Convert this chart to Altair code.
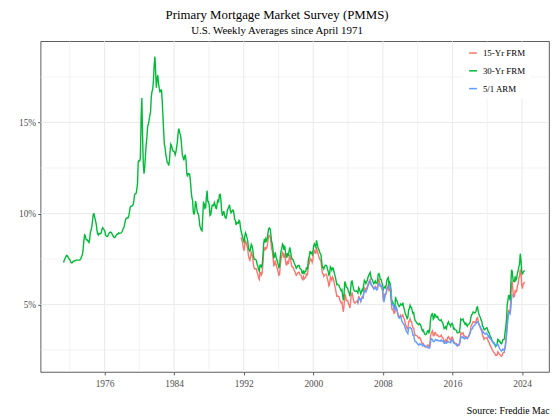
import altair as alt
import pandas as pd

FONT = "Liberation Serif"

series_names = ["15-Yr FRM", "30-Yr FRM", "5/1 ARM"]
series_colors = ["#F8766D", "#00BA38", "#619CFF"]

# 30-Yr FRM, monthly readings starting April 1971
start30 = (1971, 4)
rate30 = [
    7.31, 7.43, 7.53, 7.60, 7.70, 7.69, 7.63, 7.55, 7.48,
    7.44, 7.32, 7.29, 7.29, 7.37, 7.37, 7.40, 7.40, 7.43, 7.45, 7.44, 7.44,
    7.44, 7.44, 7.46, 7.54, 7.65, 7.73, 8.05, 8.50, 8.82, 8.77, 8.58, 8.54,
    8.54, 8.46, 8.41, 8.58, 8.97, 9.09, 9.28, 9.59, 9.96, 9.98, 9.79, 9.62,
    9.43, 9.10, 8.89, 8.82, 8.91, 8.89, 8.89, 8.94, 9.13, 9.22, 9.15, 9.10,
    9.02, 8.81, 8.76, 8.73, 8.76, 8.85, 8.93, 8.96, 8.98, 8.95, 8.86, 8.80,
    8.72, 8.67, 8.69, 8.75, 8.83, 8.86, 8.87, 8.94, 8.90, 8.92, 8.92, 8.96,
    9.02, 9.15, 9.20, 9.36, 9.57, 9.71, 9.74, 9.78, 9.76, 9.86, 10.11, 10.35,
    10.39, 10.41, 10.43, 10.50, 10.69, 11.04, 11.09, 11.09, 11.30, 11.64, 12.83, 12.90,
    12.88, 13.04, 15.28, 16.35, 14.26, 12.71, 12.19, 12.56, 13.20, 13.79, 14.21, 14.79,
    14.90, 15.13, 15.40, 15.58, 16.40, 16.70, 16.83, 17.29, 18.16, 18.63, 17.83, 16.92,
    17.40, 17.60, 17.16, 16.89, 16.68, 16.70, 16.82, 16.27, 15.43, 14.61, 13.83, 13.62,
    13.25, 13.04, 12.80, 12.78, 12.63, 12.87, 13.42, 13.81, 13.73, 13.54, 13.44, 13.42,
    13.37, 13.23, 13.39, 13.65, 13.94, 14.42, 14.67, 14.47, 14.35, 14.13, 13.64, 13.18,
    13.08, 12.92, 13.17, 13.20, 12.91, 12.22, 12.03, 12.19, 12.19, 12.14, 11.78, 11.26,
    10.88, 10.71, 10.08, 9.94, 10.14, 10.68, 10.51, 10.20, 10.01, 9.98, 9.70, 9.32,
    9.20, 9.08, 9.04, 9.83, 10.60, 10.54, 10.28, 10.33, 10.89, 11.26, 10.65, 10.65,
    10.43, 9.89, 9.93, 10.20, 10.46, 10.46, 10.43, 10.60, 10.48, 10.30, 10.27, 10.61,
    10.73, 10.65, 11.03, 11.05, 10.77, 10.20, 9.88, 9.99, 10.13, 9.95, 9.77, 9.74,
    9.90, 10.20, 10.27, 10.37, 10.48, 10.16, 10.04, 10.10, 10.18, 10.18, 10.01, 9.67,
    9.64, 9.37, 9.50, 9.49, 9.47, 9.62, 9.58, 9.24, 9.01, 8.86, 8.71, 8.50,
    8.43, 8.76, 8.94, 8.85, 8.67, 8.51, 8.13, 7.98, 7.92, 8.09, 8.31, 8.22,
    8.02, 7.68, 7.50, 7.47, 7.47, 7.42, 7.21, 7.11, 6.92, 6.83, 7.16, 7.17,
    7.06, 7.15, 7.68, 8.32, 8.60, 8.40, 8.61, 8.51, 8.64, 8.93, 9.17, 9.20,
    9.15, 8.83, 8.46, 8.32, 7.96, 7.57, 7.61, 7.86, 7.64, 7.48, 7.38, 7.20,
    7.03, 7.08, 7.62, 7.93, 8.07, 8.32, 8.25, 8.00, 8.23, 7.92, 7.62, 7.60,
    7.82, 7.65, 7.90, 8.14, 7.94, 7.69, 7.50, 7.48, 7.43, 7.29, 7.21, 7.10,
    6.99, 7.04, 7.13, 7.14, 7.14, 7.00, 6.95, 6.92, 6.72, 6.71, 6.87, 6.72,
    6.79, 6.81, 7.04, 6.92, 7.15, 7.55, 7.63, 7.94, 7.82, 7.85, 7.74, 7.91,
    8.21, 8.33, 8.24, 8.15, 8.52, 8.29, 8.15, 8.03, 7.91, 7.80, 7.75, 7.38,
    7.03, 7.05, 6.95, 7.08, 7.15, 7.16, 7.13, 6.95, 6.82, 6.62, 6.66, 7.07,
    7.00, 6.89, 7.01, 6.99, 6.81, 6.65, 6.49, 6.29, 6.09, 6.11, 6.07, 6.05,
    5.92, 5.84, 5.75, 5.81, 5.48, 5.23, 5.63, 6.26, 6.15, 5.95, 5.93, 5.88,
    5.71, 5.64, 5.45, 5.83, 6.27, 6.29, 6.06, 5.87, 5.75, 5.72, 5.73, 5.75,
    5.71, 5.63, 5.93, 5.86, 5.72, 5.58, 5.70, 5.82, 5.77, 6.07, 6.33, 6.27,
    6.15, 6.25, 6.32, 6.51, 6.60, 6.68, 6.76, 6.52, 6.40, 6.36, 6.24, 6.14,
    6.22, 6.29, 6.16, 6.18, 6.26, 6.66, 6.70, 6.57, 6.38, 6.38, 6.21, 6.10,
    5.76, 5.92, 5.97, 5.92, 6.04, 6.32, 6.43, 6.48, 6.04, 6.20, 6.09, 5.33,
    5.06, 5.13, 5.00, 4.81, 4.86, 5.42, 5.22, 5.19, 5.06, 4.95, 4.88, 4.93,
    5.03, 4.99, 4.97, 5.10, 4.89, 4.74, 4.56, 4.43, 4.35, 4.23, 4.30, 4.71,
    4.76, 4.95, 4.84, 4.84, 4.64, 4.51, 4.55, 4.27, 4.11, 4.07, 3.99, 3.96,
    3.92, 3.89, 3.95, 3.91, 3.80, 3.68, 3.55, 3.60, 3.50, 3.38, 3.35, 3.35,
    3.41, 3.53, 3.57, 3.45, 3.54, 4.07, 4.37, 4.46, 4.49, 4.19, 4.26, 4.46,
    4.43, 4.30, 4.34, 4.34, 4.19, 4.16, 4.13, 4.12, 4.16, 4.04, 4.00, 3.86,
    3.67, 3.71, 3.77, 3.67, 3.84, 3.98, 4.05, 3.91, 3.89, 3.80, 3.94, 3.96,
    3.87, 3.66, 3.69, 3.61, 3.60, 3.57, 3.44, 3.44, 3.46, 3.47, 3.77, 4.20,
    4.15, 4.17, 4.20, 4.05, 4.01, 3.90, 3.97, 3.88, 3.81, 3.90, 3.92, 3.95,
    4.03, 4.33, 4.44, 4.47, 4.59, 4.57, 4.53, 4.55, 4.63, 4.83, 4.87, 4.64,
    4.46, 4.37, 4.27, 4.14, 4.07, 3.80, 3.77, 3.62, 3.61, 3.69, 3.70, 3.72,
    3.62, 3.47, 3.45, 3.31, 3.23, 3.16, 3.02, 2.94, 2.89, 2.83, 2.77, 2.68,
    2.74, 2.81, 3.08, 3.06, 2.96, 2.98, 2.87, 2.84, 2.90, 3.07, 3.07, 3.10,
    3.45, 3.76, 4.17, 4.98, 5.23, 5.52, 5.41, 5.22, 6.11, 6.90, 6.81, 6.36,
    6.27, 6.26, 6.54, 6.34, 6.43, 6.71, 6.84, 7.07, 7.20, 7.79, 7.44, 6.82,
    6.64, 6.78, 6.82, 6.87,
]

# 15-Yr FRM, monthly readings starting September 1991
start15 = (1991, 9)
rate15 = [
    8.68, 8.52, 8.36, 8.13,
    7.95, 8.28, 8.48, 8.40, 8.22, 8.06, 7.68, 7.52, 7.43, 7.63, 7.86, 7.75,
    7.54, 7.18, 6.99, 6.94, 6.97, 6.95, 6.78, 6.66, 6.47, 6.38, 6.74, 6.76,
    6.63, 6.73, 7.25, 7.87, 8.14, 7.97, 8.13, 8.09, 8.22, 8.52, 8.76, 8.78,
    8.73, 8.43, 8.06, 7.93, 7.56, 7.14, 7.18, 7.43, 7.21, 7.06, 6.97, 6.79,
    6.60, 6.64, 7.18, 7.50, 7.62, 7.87, 7.81, 7.56, 7.79, 7.49, 7.18, 7.17,
    7.40, 7.22, 7.47, 7.72, 7.52, 7.28, 7.07, 7.06, 7.02, 6.89, 6.82, 6.71,
    6.60, 6.65, 6.73, 6.76, 6.77, 6.64, 6.62, 6.59, 6.41, 6.36, 6.52, 6.40,
    6.46, 6.49, 6.72, 6.59, 6.80, 7.20, 7.24, 7.53, 7.43, 7.46, 7.32, 7.49,
    7.83, 7.96, 7.89, 7.79, 8.15, 7.93, 7.80, 7.64, 7.54, 7.44, 7.40, 7.05,
    6.72, 6.68, 6.54, 6.60, 6.65, 6.67, 6.63, 6.39, 6.26, 6.02, 6.09, 6.52,
    6.43, 6.33, 6.51, 6.44, 6.25, 6.05, 5.88, 5.67, 5.45, 5.46, 5.44, 5.42,
    5.24, 5.17, 5.08, 5.13, 4.84, 4.59, 4.97, 5.59, 5.47, 5.22, 5.22, 5.20,
    5.03, 4.96, 4.80, 5.16, 5.61, 5.63, 5.44, 5.23, 5.10, 5.07, 5.14, 5.16,
    5.19, 5.14, 5.43, 5.40, 5.28, 5.16, 5.32, 5.42, 5.38, 5.68, 5.91, 5.86,
    5.74, 5.89, 5.98, 6.13, 6.24, 6.31, 6.37, 6.14, 6.04, 6.03, 5.93, 5.85,
    5.93, 5.99, 5.89, 5.91, 5.96, 6.32, 6.37, 6.21, 6.00, 6.00, 5.88, 5.74,
    5.27, 5.33, 5.55, 5.52, 5.60, 5.89, 6.00, 6.05, 5.72, 5.93, 5.87, 5.15,
    4.73, 4.73, 4.64, 4.51, 4.54, 4.92, 4.79, 4.67, 4.52, 4.36, 4.34, 4.36,
    4.42, 4.35, 4.34, 4.42, 4.27, 4.20, 4.03, 3.87, 3.77, 3.66, 3.65, 4.05,
    4.09, 4.22, 4.08, 4.05, 3.84, 3.71, 3.70, 3.44, 3.30, 3.30, 3.29, 3.26,
    3.20, 3.15, 3.19, 3.12, 3.04, 2.94, 2.85, 2.86, 2.77, 2.69, 2.66, 2.67,
    2.69, 2.77, 2.76, 2.67, 2.73, 3.17, 3.42, 3.49, 3.55, 3.29, 3.28, 3.44,
    3.45, 3.33, 3.31, 3.33, 3.25, 3.23, 3.24, 3.25, 3.32, 3.21, 3.18, 3.10,
    2.95, 2.99, 3.04, 2.95, 3.07, 3.19, 3.23, 3.14, 3.09, 3.00, 3.18, 3.21,
    3.14, 2.96, 2.93, 2.86, 2.86, 2.85, 2.74, 2.74, 2.76, 2.77, 3.02, 3.44,
    3.38, 3.38, 3.44, 3.31, 3.27, 3.18, 3.23, 3.17, 3.12, 3.21, 3.27, 3.36,
    3.51, 3.80, 3.90, 3.94, 4.05, 4.05, 4.01, 4.01, 4.08, 4.23, 4.27, 4.09,
    3.89, 3.80, 3.71, 3.60, 3.53, 3.28, 3.22, 3.09, 3.16, 3.15, 3.15, 3.19,
    3.09, 2.97, 2.92, 2.79, 2.72, 2.64, 2.54, 2.46, 2.39, 2.35, 2.30, 2.21,
    2.21, 2.21, 2.40, 2.35, 2.27, 2.24, 2.18, 2.16, 2.18, 2.33, 2.35, 2.37,
    2.62, 3.03, 3.39, 4.17, 4.43, 4.67, 4.67, 4.59, 5.31, 6.17, 6.23, 5.69,
    5.41, 5.44, 5.75, 5.68, 5.73, 6.02, 6.12, 6.44, 6.56, 6.92, 6.76, 6.06,
    5.87, 6.12, 6.16, 6.24,
]

# 5/1 ARM, monthly readings starting January 2005 (series ends November 2022)
start_arm = (2005, 1)
rate_arm = [
    5.15, 5.07, 5.30, 5.35, 5.30, 5.20, 5.30, 5.37, 5.35, 5.54, 5.74, 5.74,
    5.69, 5.78, 5.87, 6.02, 6.10, 6.22, 6.31, 6.15, 6.03, 6.00, 5.93, 5.85,
    5.90, 5.92, 5.84, 5.79, 5.83, 6.06, 6.15, 6.10, 6.00, 6.03, 5.99, 5.96,
    5.45, 5.13, 5.34, 5.55, 5.61, 5.82, 5.86, 5.94, 5.92, 6.06, 5.93, 5.73,
    5.04, 4.96, 4.98, 4.72, 4.69, 4.90, 4.88, 4.69, 4.47, 4.31, 4.24, 4.30,
    4.34, 4.19, 4.05, 3.99, 3.93, 3.88, 3.73, 3.62, 3.51, 3.47, 3.40, 3.70,
    3.73, 3.74, 3.69, 3.67, 3.49, 3.31, 3.32, 3.07, 2.96, 2.96, 2.91, 2.84,
    2.82, 2.76, 2.83, 2.80, 2.83, 2.80, 2.72, 2.76, 2.74, 2.75, 2.70, 2.69,
    2.67, 2.64, 2.62, 2.60, 2.60, 2.84, 3.12, 3.11, 3.06, 2.96, 2.96, 2.99,
    3.08, 3.06, 3.02, 3.05, 3.01, 2.99, 3.01, 2.99, 3.05, 2.98, 2.97, 3.00,
    2.87, 2.87, 2.92, 2.87, 2.89, 2.99, 2.95, 2.92, 2.91, 2.89, 3.01, 3.08,
    3.01, 2.88, 2.87, 2.84, 2.80, 2.78, 2.72, 2.79, 2.81, 2.84, 2.96, 3.19,
    3.21, 3.18, 3.24, 3.14, 3.11, 3.13, 3.19, 3.15, 3.14, 3.21, 3.25, 3.36,
    3.42, 3.61, 3.65, 3.67, 3.80, 3.82, 3.86, 3.92, 3.95, 4.03, 4.05, 3.99,
    3.94, 3.84, 3.78, 3.68, 3.63, 3.45, 3.49, 3.42, 3.38, 3.37, 3.43, 3.39,
    3.33, 3.22, 3.29, 3.13, 3.11, 3.05, 3.00, 2.91, 2.92, 2.88, 2.82, 2.75,
    2.80, 2.77, 2.82, 2.76, 2.62, 2.55, 2.49, 2.44, 2.47, 2.55, 2.52, 2.46,
    2.61, 2.85, 3.27, 3.77, 4.17, 4.51, 4.57, 4.49, 4.80, 5.35, 5.56,
]

x_ticks = [1976, 1984, 1992, 2000, 2008, 2016, 2024]
x_minor = [1972, 1980, 1988, 1996, 2004, 2012, 2020]
y_ticks = [5, 10, 15]
y_minor = [2.5, 7.5, 12.5, 17.5]
x_domain = [1968.65, 2027.1]
y_domain = [1.29, 19.47]


def frame(name, start, vals):
    y0, m0 = start
    return pd.DataFrame({
        "year": [y0 + (m0 - 1 + i + 0.5) / 12 for i in range(len(vals))],
        "rate": vals,
        "series": name,
    })


df = pd.concat([
    frame(series_names[0], start15, rate15),
    frame(series_names[1], start30, rate30),
    frame(series_names[2], start_arm, rate_arm),
], ignore_index=True)

xs = alt.Scale(domain=x_domain, nice=False, zero=False)
ys = alt.Scale(domain=y_domain, nice=False, zero=False)

x_axis = alt.Axis(
    values=x_ticks, format="d", grid=False, domain=False,
    tickSize=3, tickColor="#333333", tickWidth=0.8,
    labelFont=FONT, labelFontSize=9.5, labelColor="#4D4D4D", labelPadding=4,
    labelFlush=False,
    title="Source: Freddie Mac", titleAnchor="end", titleFont=FONT,
    titleFontSize=10, titleFontWeight="normal", titleColor="black",
    titlePadding=18,
)
y_axis = alt.Axis(
    values=y_ticks, labelExpr="datum.value + '%'", grid=False, domain=False,
    tickSize=3, tickColor="#333333", tickWidth=0.8,
    labelFont=FONT, labelFontSize=9.5, labelColor="#4D4D4D", labelPadding=2,
    title="",
)

X = alt.X("year:Q", scale=xs, axis=x_axis)
Y = alt.Y("rate:Q", scale=ys, axis=y_axis)

grid_xmin = alt.Chart(pd.DataFrame({"year": x_minor})).mark_rule(
    color="#EBEBEB", strokeWidth=0.6).encode(x=X)
grid_xmaj = alt.Chart(pd.DataFrame({"year": x_ticks})).mark_rule(
    color="#EBEBEB", strokeWidth=1.1).encode(x=X)
grid_ymin = alt.Chart(pd.DataFrame({"rate": y_minor})).mark_rule(
    color="#EBEBEB", strokeWidth=0.6).encode(y=Y)
grid_ymaj = alt.Chart(pd.DataFrame({"rate": y_ticks})).mark_rule(
    color="#EBEBEB", strokeWidth=1.1).encode(y=Y)

lines = alt.Chart(df).mark_line(strokeWidth=1.4).encode(
    x=X, y=Y,
    color=alt.Color(
        "series:N",
        scale=alt.Scale(domain=series_names, range=series_colors),
        legend=alt.Legend(
            title=None, orient="none", legendX=428, legendY=2,
            padding=5, fillColor="white", symbolType="stroke",
            symbolSize=64, symbolStrokeWidth=1.5,
            labelFont=FONT, labelFontSize=9, labelColor="black",
            labelOffset=5, rowPadding=8,
        ),
    ),
    detail="series:N",
)

chart = alt.layer(grid_xmin, grid_xmaj, grid_ymin, grid_ymaj, lines).properties(
    width=515, height=335,
    padding={"left": 33, "top": 31, "right": 3, "bottom": 44},
    autosize=alt.AutoSizeParams(type="none"),
    title=alt.TitleParams(
        text="Primary Mortgage Market Survey (PMMS)",
        subtitle="U.S. Weekly Averages since April 1971",
        font=FONT, fontSize=13, fontWeight="normal", color="black",
        subtitleFont=FONT, subtitleFontSize=11, subtitleColor="black",
        subtitlePadding=2.5, anchor="middle", frame="group", dx=-18, offset=5,
    ),
).configure_view(stroke="#333333", strokeWidth=0.8)

chart.save("out.html", embed_options={"renderer": "svg", "actions": False})
